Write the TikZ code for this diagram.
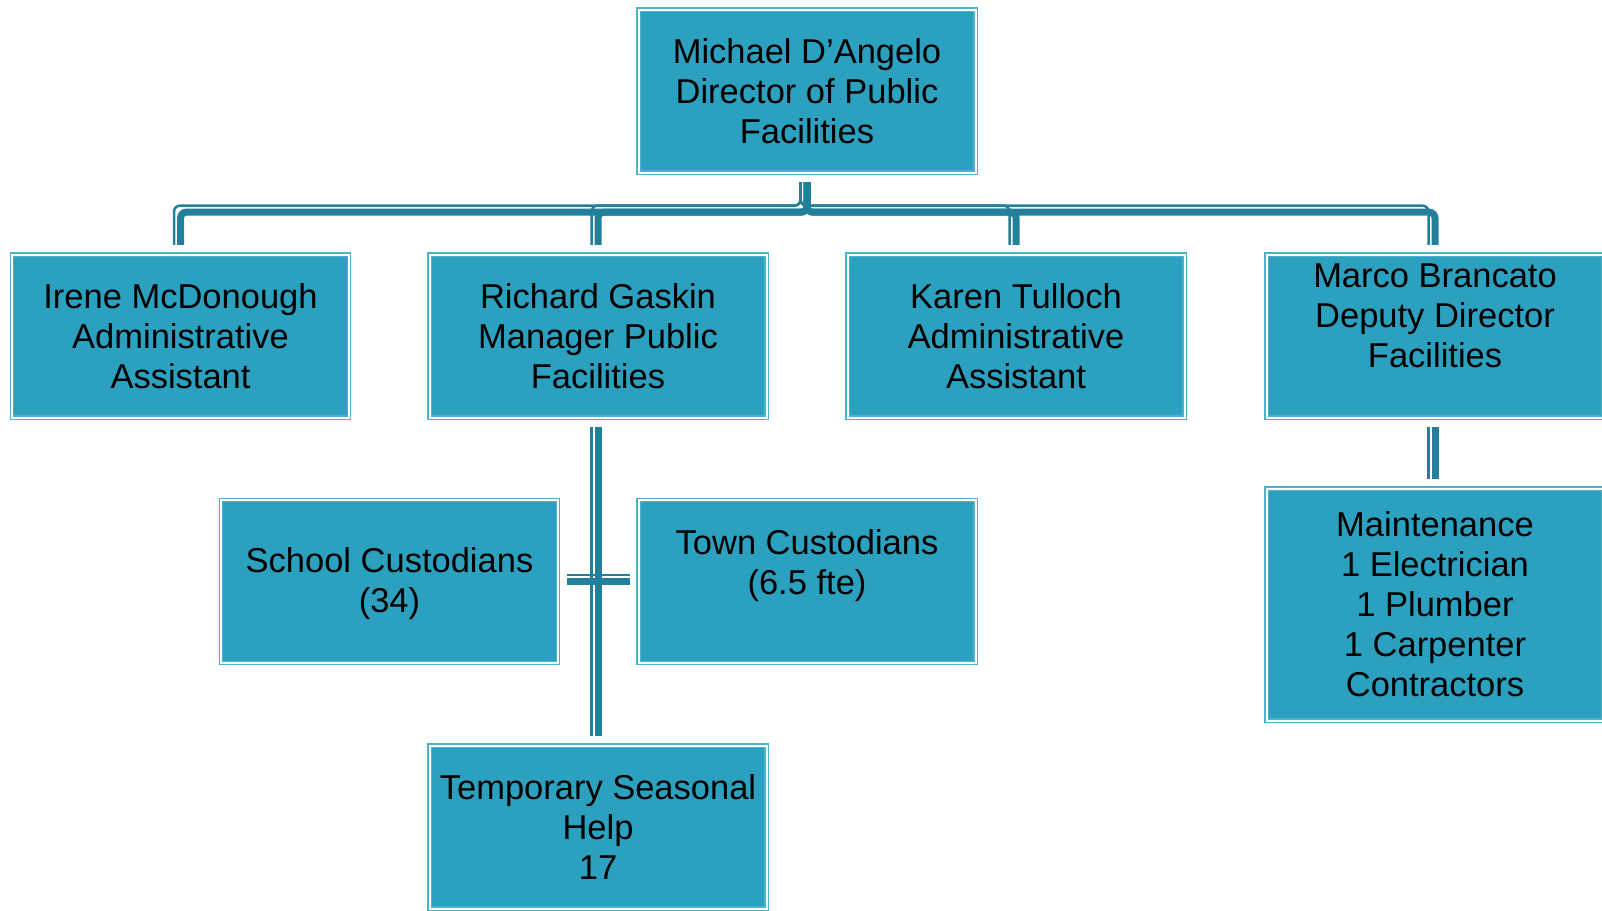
\documentclass[tikz,border=0pt]{standalone}
\usepackage{fontspec}
\setmainfont{Liberation Sans}
\definecolor{boxfill}{HTML}{2CA1BF}
\definecolor{boxedge}{HTML}{4DB3CC}
\definecolor{linkc}{HTML}{23809A}
\tikzset{
  staffbox/.style={rectangle, fill=boxfill, draw=boxedge, double=white, double distance=2pt,
    line width=1.3pt, minimum width=337pt, minimum height=163pt, inner sep=0pt,
    align=center, font=\fontsize{34.5}{40}\selectfont},
  orgline/.style={draw=linkc, line width=7pt, rounded corners=6pt, shorten <=9pt, shorten >=9pt},
  orgthin/.style={orgline, line width=2.5pt, shorten <=15.5pt, shorten >=2.5pt,
    transform canvas={xshift=-6.5pt, yshift=6.5pt}},
}

\begin{document}
\begin{tikzpicture}[x=1pt, y=-1pt]
\useasboundingbox (0,0) rectangle (1602,910);

\node[staffbox] (dir) at (807,91) {Michael D'Angelo\\Director of Public\\Facilities};

\node[staffbox] (irene) at (180.5,336) {Irene McDonough\\Administrative\\Assistant};
\node[staffbox] (richard) at (598,336) {Richard Gaskin\\Manager Public\\Facilities};
\node[staffbox] (karen) at (1016,336) {Karen Tulloch\\Administrative\\Assistant};
\node[staffbox] (marco) at (1435,336) {Marco Brancato\\Deputy Director\\Facilities\\\mbox{}};

\node[staffbox] (school) at (389.5,581.5) {\rule{0pt}{30pt}School Custodians\\(34)};
\node[staffbox] (town) at (807,581.5) {Town Custodians\\(6.5 fte)\\\mbox{}};
\node[staffbox] (temp) at (598,827) {Temporary Seasonal\\Help\\17};
\node[staffbox, minimum height=232pt] (maint) at (1435,604.5) {Maintenance\\1 Electrician\\1 Plumber\\1 Carpenter\\Contractors};

% director to the four below
\foreach \who in {irene, richard, karen, marco}{
  \draw[orgthin] (dir.south) -- ++(0,39) -| (\who.north);
  \draw[orgline] (dir.south) -- ++(0,39) -| (\who.north);
}

% under the manager
\draw[orgthin] (richard.south) -- (temp.north);
\draw[orgline] (richard.south) -- (temp.north);
\draw[orgthin, shorten <=14.5pt, shorten >=1.5pt] (school.east) -- (town.west);
\draw[orgline, shorten <=8pt, shorten >=8pt] (school.east) -- (town.west);

% under the deputy
\draw[orgthin] (marco.south) -- (maint.north);
\draw[orgline] (marco.south) -- (maint.north);
\end{tikzpicture}
\end{document}
